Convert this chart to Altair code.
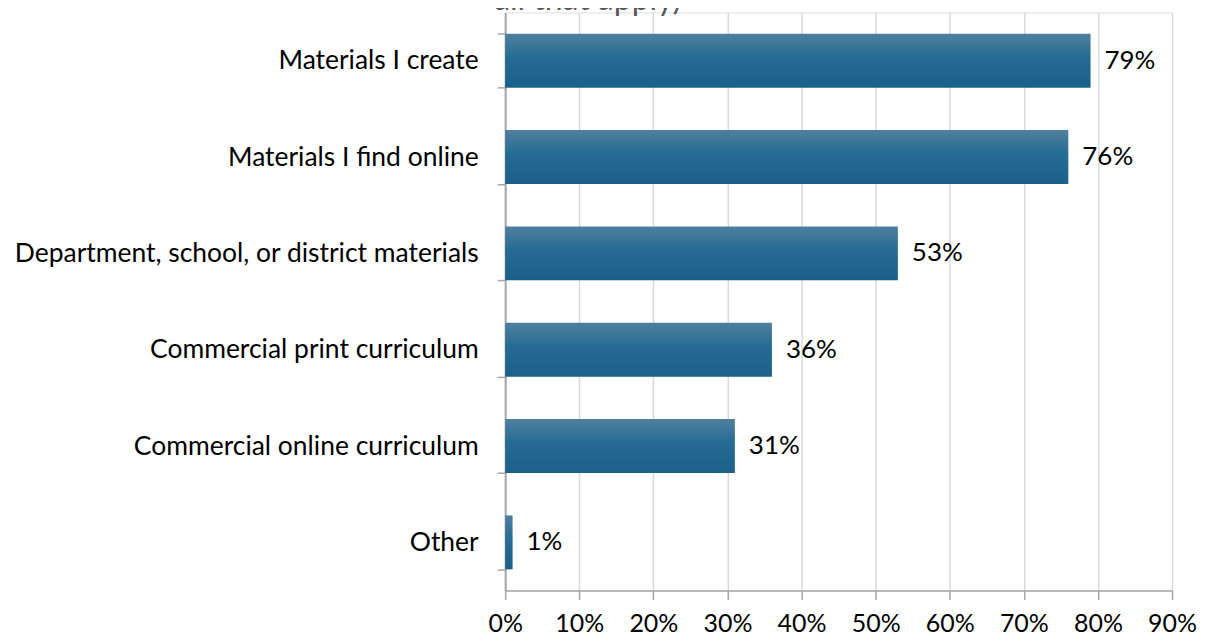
import altair as alt
import pandas as pd

categories = [
    "Materials I create",
    "Materials I find online",
    "Department, school, or district materials",
    "Commercial print curriculum",
    "Commercial online curriculum",
    "Other",
]
values = [79, 76, 53, 36, 31, 1]
x_ticks = [0, 10, 20, 30, 40, 50, 60, 70, 80, 90]
title_fragment = "all that apply)"

df = pd.DataFrame({"source": categories, "pct": values})
df["label"] = [f"{v}%" for v in values]

FONT = "Lato"

grad = alt.Gradient(
    gradient="linear",
    stops=[
        alt.GradientStop(color="#4f7f9d", offset=0),
        alt.GradientStop(color="#246c93", offset=0.45),
        alt.GradientStop(color="#1a6189", offset=1),
    ],
    x1=0, x2=0, y1=0, y2=1,
)

y_enc = alt.Y(
    "source:N",
    sort=categories,
    scale=alt.Scale(paddingInner=0.44, paddingOuter=0.22),
    axis=alt.Axis(
        title=None,
        tickBand="extent",
        tickSize=8,
        tickColor="#a6a6a6",
        tickWidth=1.5,
        domainColor="#a6a6a6",
        domainWidth=2,
        labelFont=FONT,
        labelFontSize=26.5,
        labelColor="#000000",
        labelPadding=19,
        labelLimit=600,
        grid=False,
    ),
)

x_enc = alt.X(
    "pct:Q",
    scale=alt.Scale(domain=[0, 90], nice=False),
    axis=alt.Axis(
        title=None,
        values=x_ticks,
        labelExpr="datum.value + '%'",
        labelFlush=False,
        labelOverlap=False,
        tickSize=9,
        tickColor="#a6a6a6",
        tickWidth=1.5,
        domainColor="#a6a6a6",
        domainWidth=1.5,
        gridColor="#d9d9d9",
        gridWidth=1.5,
        labelFont=FONT,
        labelFontSize=25,
        labelColor="#000000",
        labelPadding=12,
    ),
)

bars = alt.Chart(df).mark_bar(fill=grad).encode(x=x_enc, y=y_enc)

labels = alt.Chart(df).mark_text(
    align="left", baseline="middle", dx=14, font=FONT, fontSize=26, color="#000000"
).encode(x="pct:Q", y=alt.Y("source:N", sort=categories), text="label:N")

title_df = pd.DataFrame({"t": [title_fragment]})
title_txt = alt.Chart(title_df).mark_text(
    align="left", baseline="alphabetic", font=FONT, fontSize=32, color="#595959"
).encode(x=alt.value(-11), y=alt.value(-3), text="t:N")

chart = (
    alt.layer(bars, labels, title_txt)
    .properties(
        width=668,
        height=579,
        autosize=alt.AutoSizeParams(type="none"),
        padding={"left": 498, "top": 4, "right": 30, "bottom": 47},
    )
    .configure_view(stroke=None)
    .configure(background="white")
)

chart.save("out.html", embed_options={"renderer": "svg", "actions": False})
